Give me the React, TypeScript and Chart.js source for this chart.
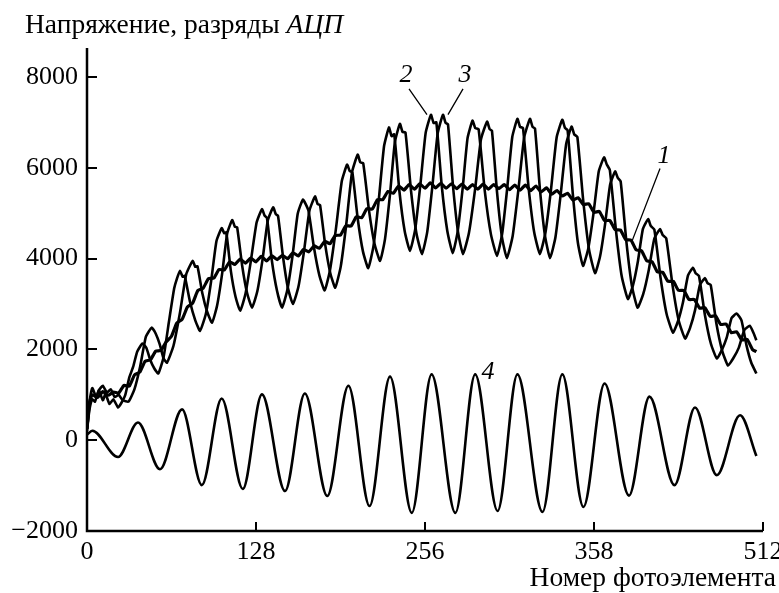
import React, { useEffect, useRef } from "react";
import { Chart, registerables } from "chart.js";

Chart.register(...registerables);

// ---------- axes ----------
const xMin = 0;
const xMax = 512;
const yMin = -2000;
const yMax = 8640;
const xTickValues = [0, 128, 256, 384, 512];
const xTickLabels = ["0", "128", "256", "358", "512"];
const yTickValues = [-2000, 0, 2000, 4000, 6000, 8000];
const yTickLabels = ["\u22122000", "0", "2000", "4000", "6000", "8000"];

const yTitleMain = "Напряжение, разряды ";
const yTitleItalic = "АЦП";
const xTitle = "Номер фотоэлемента";

// ---------- series: [photo-element number, ADC counts] ----------
const curve1: [number, number][] = [
  [0, 250], [2, 850], [4, 1000], [8, 940], [12, 1070], [16, 990], [20, 1060], [24, 1040],
  [28, 1210], [32, 1190], [36, 1440], [40, 1500], [44, 1740], [48, 1770], [52, 1960], [56, 1980],
  [60, 2170], [64, 2290], [68, 2580], [72, 2660], [76, 2930], [80, 3020], [84, 3300], [88, 3350],
  [92, 3560], [96, 3570], [100, 3760], [104, 3750], [108, 3930], [112, 3870], [116, 3990], [120, 3900],
  [124, 4010], [128, 3930], [132, 4050], [136, 3950], [140, 4060], [144, 3980], [148, 4070], [152, 4000],
  [156, 4130], [160, 4060], [164, 4200], [168, 4150], [172, 4280], [176, 4230], [180, 4380], [184, 4330],
  [188, 4510], [192, 4520], [196, 4720], [200, 4720], [204, 4920], [208, 4900], [212, 5100], [216, 5090],
  [220, 5300], [224, 5300], [228, 5480], [232, 5440], [236, 5600], [240, 5510], [244, 5630], [248, 5530],
  [252, 5650], [256, 5550], [260, 5670], [264, 5560], [268, 5660], [272, 5550], [276, 5650], [280, 5540],
  [284, 5640], [288, 5530], [292, 5630], [296, 5530], [300, 5640], [304, 5530], [308, 5630], [312, 5540],
  [316, 5630], [320, 5520], [324, 5620], [328, 5510], [332, 5620], [336, 5500], [340, 5600], [344, 5470],
  [348, 5560], [352, 5420], [356, 5500], [360, 5380], [364, 5440], [368, 5290], [372, 5340], [376, 5190],
  [380, 5210], [384, 5020], [388, 5040], [392, 4840], [396, 4840], [400, 4640], [404, 4630], [408, 4420],
  [412, 4410], [416, 4190], [420, 4170], [424, 3950], [428, 3930], [432, 3710], [436, 3700], [440, 3500],
  [444, 3500], [448, 3300], [452, 3300], [456, 3100], [460, 3100], [464, 2910], [468, 2920], [472, 2730],
  [476, 2740], [480, 2550], [484, 2560], [488, 2370], [492, 2390], [496, 2210], [500, 2220], [504, 2000],
  [507, 1950],
];

const curve2: [number, number][] = [
  [0, 200], [2, 850], [4, 1150], [7, 950], [9, 1100], [12, 880], [14, 1020], [17, 800], [20, 900],
  [23.5, 720], [26, 820], [29, 1000], [32, 1380], [35, 1620], [38, 1950], [42, 2130], [45, 2030],
  [48, 1760], [51, 1580], [54, 1470], [58, 1830], [62, 2600], [66, 3340], [68, 3550], [70.4, 3730],
  [72.5, 3600], [74, 3620], [78, 3050], [82, 2640], [85.6, 2410], [90, 2780], [94, 3500], [98, 4380],
  [102, 4670], [104, 4560], [105.5, 4580], [109, 3720], [112.5, 3160], [116, 2850], [120, 3220],
  [124, 3930], [128.5, 4800], [132.5, 5090], [134.5, 4950], [136.3, 4900], [140, 3960], [144, 3280],
  [147.7, 2920], [151.7, 3310], [155.7, 4070], [159.6, 4990], [163.6, 5300], [167.7, 5060], [171.8, 4260],
  [176, 3630], [180, 3300], [184, 3740], [188.5, 4650], [193, 5710], [197, 6070], [199, 5930], [201, 5900],
  [205, 4890], [209, 4160], [213, 3790], [217, 4280], [221, 5300], [225, 6480], [228.7, 6890], [230.7, 6700],
  [232.7, 6740], [236.6, 5490], [240.6, 4610], [244.6, 4170], [248.6, 4650], [252.5, 5630], [256.5, 6770],
  [260.5, 7170], [262.5, 6990], [264.6, 7000], [268.7, 5600], [272.9, 4610], [277, 4120], [280.7, 4590],
  [284.5, 5540], [288.2, 6650], [292, 7040], [294, 6880], [296.6, 6850], [301.2, 5510], [305.9, 4540],
  [310.5, 4060], [314.4, 4540], [318.2, 5530], [322.1, 6680], [326, 7080], [328, 6900], [330.2, 6880],
  [334.5, 5550], [338.7, 4580], [343, 4100], [347.2, 4570], [351.5, 5540], [355.7, 6670], [360, 7060],
  [362, 6880], [364, 6830], [368, 5410], [371.8, 4350], [375.7, 3840], [379.7, 4230], [383.6, 4990],
  [387.6, 5920], [391.6, 6230], [393.6, 6080], [396, 5950], [400.6, 4630], [405, 3610], [409.7, 3110],
  [413.5, 3410], [417.3, 3950], [421, 4650], [425, 4870], [427, 4720], [429.7, 4640], [434.4, 3580],
  [439, 2780], [443.8, 2370], [447.6, 2620], [451.4, 3040], [455.2, 3630], [459, 3800], [461, 3680],
  [463.5, 3620], [468, 2760], [472.5, 2130], [477, 1800], [480.7, 1980], [484.5, 2260], [488.2, 2690],
  [492, 2790], [495.7, 2640], [499.5, 2090], [503.2, 1700], [507, 1470],
];

const curve3: [number, number][] = [
  [0, 250], [2, 700], [4, 900], [6, 850], [9, 1100], [12, 1200], [15, 1050], [18, 1120], [21, 950],
  [24, 1000], [27, 880], [31.5, 850], [35.9, 1120], [40.3, 1630], [44.6, 2280], [49, 2480], [52, 2350],
  [55, 2120], [58, 1800], [60.6, 1710], [65.5, 2080], [70.3, 2790], [75.2, 3660], [80, 3950], [82, 3820],
  [83.7, 3830], [87.4, 3230], [91, 2830], [94.7, 2590], [98.5, 2960], [102.4, 3680], [106.2, 4560],
  [110, 4850], [112, 4700], [113.7, 4690], [117.5, 3850], [121.2, 3250], [125, 2920], [129, 3280],
  [133, 3990], [137, 4850], [141, 5130], [143, 4980], [144.7, 4940], [148.5, 4030], [152.2, 3350],
  [156, 3000], [160.2, 3390], [164.3, 4150], [168.5, 5060], [172.7, 5370], [174.7, 5200], [176.5, 5180],
  [180.3, 4330], [184.2, 3690], [188, 3360], [192.2, 3830], [196.5, 4790], [200.7, 5900], [205, 6290],
  [207, 6120], [209.2, 6100], [213.5, 5080], [217.7, 4330], [222, 3950], [225.7, 4430], [229.5, 5420],
  [233.2, 6570], [237, 6970], [239, 6790], [241.2, 6780], [245.4, 5500], [249.5, 4560], [253.7, 4100],
  [257.7, 4590], [261.6, 5600], [265.6, 6760], [269.6, 7170], [271.6, 6990], [273.4, 6960], [277.2, 5600],
  [281, 4590], [284.8, 4100], [289.3, 4570], [293.9, 5520], [298.4, 6630], [303, 7020], [305, 6850],
  [306.7, 6820], [310.5, 5480], [314.2, 4490], [318, 4010], [322.4, 4500], [326.7, 5510], [331.1, 6670],
  [335.5, 7080], [337.5, 6900], [339.3, 6870], [343.1, 5510], [346.9, 4500], [350.7, 4010], [354.8, 4470],
  [358.8, 5420], [362.9, 6520], [367, 6910], [369, 6740], [371.4, 6680], [375.9, 5260], [380.3, 4190],
  [384.8, 3680], [388.6, 4050], [392.4, 4760], [396.2, 5630], [400, 5920], [402, 5780], [404.2, 5700],
  [408.5, 4380], [412.7, 3400], [417, 2920], [421.2, 3210], [425.5, 3750], [429.7, 4440], [434, 4650],
  [436, 4520], [438.7, 4450], [443.5, 3410], [448.2, 2630], [453, 2240], [456.7, 2470], [460.5, 2860],
  [464.2, 3420], [468, 3570], [470, 3460], [472.4, 3420], [476.7, 2570], [481.1, 1970], [485.5, 1645],
  [489.6, 1810], [493.7, 2040], [497.9, 2430], [502, 2520], [505, 2350], [507, 2200],
];

const curve4: [number, number][] = [
  [0, 120], [4, 210], [23.5, -370], [38.6, 390], [55.3, -640], [72, 680], [87, -990], [102, 920],
  [118, -1075], [132.5, 1010], [150, -1120], [165, 1030], [182, -1230], [198, 1200], [214, -1450],
  [229.5, 1400], [246, -1600], [261, 1450], [279, -1600], [294, 1450], [311, -1560], [326, 1450],
  [345, -1580], [360, 1450], [376, -1470], [392, 1250], [410.5, -1220], [426, 960], [445, -990],
  [460.5, 720], [477, -770], [494.6, 550], [507, -350],
];

// curve number labels and their leader lines (data coordinates)
const curveLabels = [
  { text: "1", x: 437, y: 6250 },
  { text: "2", x: 241.6, y: 8048 },
  { text: "3", x: 286.3, y: 8048 },
  { text: "4", x: 303.7, y: 1491 },
];
const leaderLines = [
  { x1: 434, y1: 5987, x2: 412.8, y2: 4386 },
  { x1: 243.9, y1: 7741, x2: 257.5, y2: 7171 },
  { x1: 284.8, y1: 7741, x2: 273.4, y2: 7171 },
];

const SERIF = "'Liberation Serif', 'Times New Roman', serif";

const toXY = (arr: [number, number][]) => arr.map(([x, y]) => ({ x, y }));

const decorPlugin = {
  id: "decor",
  afterDraw(chart: any) {
    const { ctx, chartArea, scales } = chart;
    const xs = scales.x;
    const ys = scales.y;
    ctx.save();
    ctx.strokeStyle = "#000";
    ctx.fillStyle = "#000";
    ctx.lineCap = "butt";
    // axes
    ctx.lineWidth = 2.5;
    ctx.beginPath();
    ctx.moveTo(chartArea.left, chartArea.top);
    ctx.lineTo(chartArea.left, chartArea.bottom);
    ctx.lineTo(chartArea.right, chartArea.bottom);
    ctx.stroke();
    // inward ticks
    ctx.lineWidth = 2;
    ctx.beginPath();
    yTickValues.forEach((v) => {
      if (v === yMin) return;
      const py = Math.round(ys.getPixelForValue(v));
      ctx.moveTo(chartArea.left, py);
      ctx.lineTo(chartArea.left + 10, py);
    });
    xTickValues.forEach((v) => {
      if (v === xMin) return;
      const px = Math.round(xs.getPixelForValue(v));
      ctx.moveTo(px, chartArea.bottom);
      ctx.lineTo(px, chartArea.bottom - 9);
    });
    ctx.stroke();
    // leader lines
    ctx.lineWidth = 1.3;
    ctx.beginPath();
    leaderLines.forEach((l) => {
      ctx.moveTo(xs.getPixelForValue(l.x1), ys.getPixelForValue(l.y1));
      ctx.lineTo(xs.getPixelForValue(l.x2), ys.getPixelForValue(l.y2));
    });
    ctx.stroke();
    // curve labels
    ctx.font = `italic 26px ${SERIF}`;
    ctx.textAlign = "center";
    ctx.textBaseline = "middle";
    curveLabels.forEach((l) => {
      ctx.fillText(l.text, xs.getPixelForValue(l.x), ys.getPixelForValue(l.y));
    });
    // axis titles
    ctx.textBaseline = "alphabetic";
    ctx.textAlign = "left";
    ctx.font = `27.5px ${SERIF}`;
    const w = ctx.measureText(yTitleMain).width;
    ctx.fillText(yTitleMain, 25, 33);
    ctx.font = `italic 27.5px ${SERIF}`;
    ctx.fillText(yTitleItalic, 25 + w, 33);
    ctx.font = `27.5px ${SERIF}`;
    ctx.textAlign = "right";
    ctx.fillText(xTitle, 776, 586);
    ctx.restore();
  },
};

export default function App() {
  const canvasRef = useRef<HTMLCanvasElement | null>(null);

  useEffect(() => {
    if (!canvasRef.current) return;
    const line = (data: [number, number][], width: number, mono = false) => ({
      data: toXY(data),
      borderColor: "#000",
      borderWidth: width,
      pointRadius: 0,
      fill: false,
      tension: mono ? 0 : 0.15,
      cubicInterpolationMode: mono ? ("monotone" as const) : ("default" as const),
      borderJoinStyle: "round" as const,
    });
    const chart = new Chart(canvasRef.current, {
      type: "line",
      data: {
        datasets: [
          line(curve1, 3.2),
          line(curve2, 2.6),
          line(curve3, 2.6),
          line(curve4, 2.6, true),
        ],
      },
      options: {
        animation: false,
        responsive: false,
        devicePixelRatio: 1,
        layout: { padding: { top: 48, right: 16, left: 0, bottom: 0 } },
        plugins: { legend: { display: false }, tooltip: { enabled: false } },
        scales: {
          x: {
            type: "linear",
            min: xMin,
            max: xMax,
            grid: { display: false, drawTicks: false },
            border: { display: false },
            afterBuildTicks: (s: any) => {
              s.ticks = xTickValues.map((value) => ({ value }));
            },
            afterFit: (s: any) => {
              s.height = 62;
              s.paddingLeft = 0;
              s.paddingRight = 0;
            },
            ticks: {
              padding: 6,
              autoSkip: false,
              maxRotation: 0,
              color: "#000",
              font: { family: SERIF, size: 26 },
              callback: (v: any) => {
                const i = xTickValues.indexOf(Number(v));
                return i >= 0 ? xTickLabels[i] : "";
              },
            },
          },
          y: {
            type: "linear",
            min: yMin,
            max: yMax,
            grid: { display: false, drawTicks: false },
            border: { display: false },
            afterBuildTicks: (s: any) => {
              s.ticks = yTickValues.map((value) => ({ value }));
            },
            afterFit: (s: any) => {
              s.width = 87;
            },
            ticks: {
              padding: 9,
              color: "#000",
              font: { family: SERIF, size: 26 },
              callback: (v: any) => {
                const i = yTickValues.indexOf(Number(v));
                return i >= 0 ? yTickLabels[i] : "";
              },
            },
          },
        },
      },
      plugins: [decorPlugin],
    });
    return () => chart.destroy();
  }, []);

  return (
    <div style={{ position: "fixed", left: 0, top: 0, width: 779, height: 593, background: "#fff" }}>
      <canvas ref={canvasRef} width={779} height={593} style={{ display: "block" }} />
    </div>
  );
}
